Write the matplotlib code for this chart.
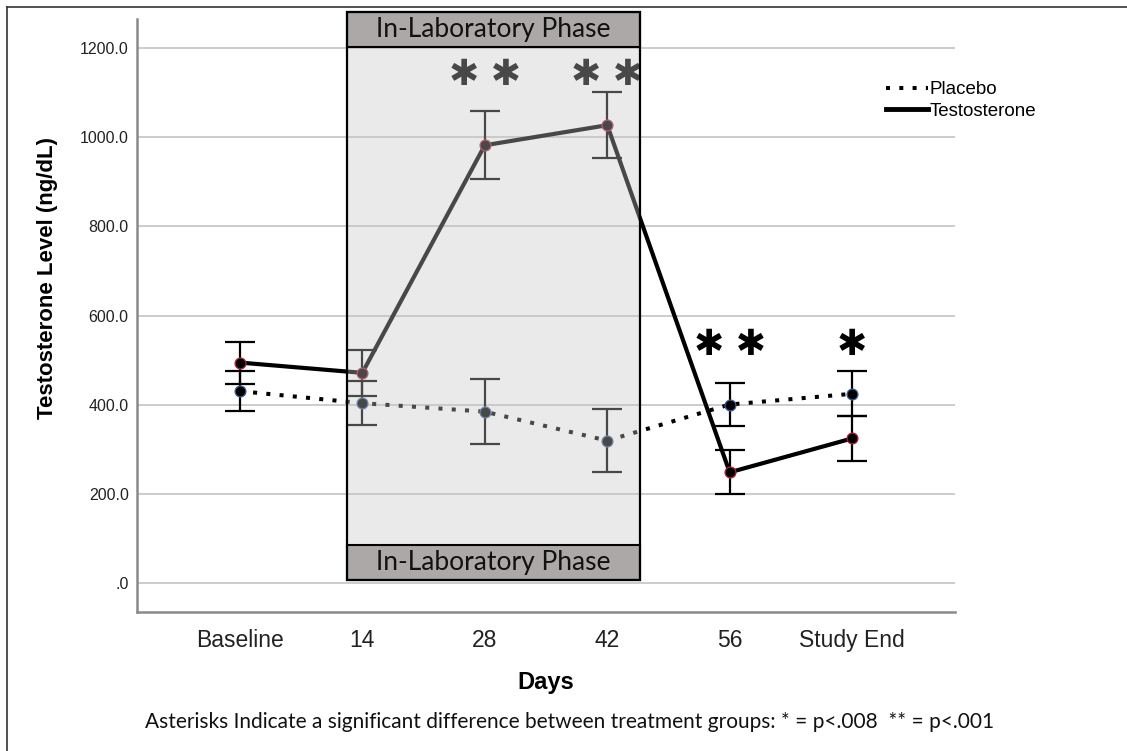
import matplotlib
matplotlib.use("Agg")
import matplotlib.pyplot as plt
import matplotlib.transforms as mtransforms
from matplotlib.patches import Rectangle
from matplotlib.lines import Line2D

# ---- data ----
categories = ["Baseline", "14", "28", "42", "56", "Study End"]
testosterone = [495, 472, 982, 1027, 249, 325]
testosterone_err = [47, 52, 76, 74, 49, 51]
placebo = [431, 404, 385, 320, 401, 425]
placebo_err = [44, 50, 73, 71, 48, 50]
yticks = [0, 200, 400, 600, 800, 1000, 1200]
ytick_labels = [".0", "200.0", "400.0", "600.0", "800.0", "1000.0", "1200.0"]
sig_marks = ["", "", "**", "**", "**", "*"]
sig_y = [None, None, 1139, 1139, 534, 534]
phase_label = "In-Laboratory Phase"
phase_span = (0.874, 3.27)
footnote = "Asterisks Indicate a significant difference between treatment groups: * = p<.008  ** = p<.001"

W, H = 1127, 751
fig = plt.figure(figsize=(W / 100, H / 100), dpi=100)
ax = fig.add_axes([137 / W, (H - 612) / H, (955 - 137) / W, (612 - 19) / H])

x = list(range(len(categories)))
ax.set_xlim(-0.84, 5.84)
ax.set_ylim(-64, 1265)

# grid
ax.set_yticks(yticks)
ax.set_yticklabels(ytick_labels, fontsize=11.5, family="Liberation Sans", color="#222222")
ax.set_xticks(x)
ax.set_xticklabels(categories, fontsize=16.5, family="Liberation Sans", color="#222222")
ax.tick_params(axis="both", length=0)
ax.tick_params(axis="y", pad=6)
ax.tick_params(axis="x", pad=12)
ax.yaxis.grid(True, color="#c8c8c8", lw=1.3, zorder=0)
ax.set_axisbelow(True)
for s in ["top", "right"]:
    ax.spines[s].set_visible(False)
for s in ["left", "bottom"]:
    ax.spines[s].set_color("#8a8a8a")
    ax.spines[s].set_linewidth(1.8)

# lines
ax.plot(x, placebo, color="black", lw=2.9, ls=(0, (1, 2.3)), zorder=3)
ax.plot(x, testosterone, color="black", lw=3.0, zorder=3, solid_capstyle="round")
ax.errorbar(x, placebo, yerr=placebo_err, fmt="none", ecolor="black", elinewidth=1.6,
            capsize=11, capthick=1.6, zorder=4)
ax.errorbar(x, testosterone, yerr=testosterone_err, fmt="none", ecolor="black", elinewidth=1.6,
            capsize=11, capthick=1.6, zorder=4)
ax.plot(x, placebo, ls="none", marker="o", ms=7.8, mfc="black", mec="#3c5d96", mew=0.9, zorder=5)
ax.plot(x, testosterone, ls="none", marker="o", ms=7.8, mfc="black", mec="#b0203c", mew=0.9, zorder=5)

# significance asterisks
for xi, m, yv in zip(x, sig_marks, sig_y):
    if m:
        ax.text(xi, yv, " ".join("\u2731" * len(m)), ha="center", va="center", fontsize=26,
                family="DejaVu Sans", color="black", zorder=6)

# phase box
trans = mtransforms.blended_transform_factory(ax.transData, fig.transFigure)
x0, x1 = phase_span
y_bot, y_top = (H - 580) / H, (H - 12) / H
hdr_h = 35 / H
ax.add_patch(Rectangle((x0, y_bot), x1 - x0, y_top - y_bot, transform=trans,
                       facecolor=(198 / 255, 198 / 255, 198 / 255), alpha=0.37,
                       edgecolor="none", zorder=8, clip_on=False))
for yb in [y_top - hdr_h, y_bot]:
    ax.add_patch(Rectangle((x0, yb), x1 - x0, hdr_h, transform=trans,
                           facecolor="#aca8a8", edgecolor="black", lw=1.5,
                           zorder=9, clip_on=False))
    ax.text((x0 + x1) / 2, yb + hdr_h / 2, phase_label, transform=trans, ha="center",
            va="center", fontsize=19, family="Lato", color="#111111", zorder=10)
ax.add_patch(Rectangle((x0, y_bot), x1 - x0, y_top - y_bot, transform=trans,
                       facecolor="none", edgecolor="black", lw=1.6, zorder=11, clip_on=False))

# labels
ax.set_xlabel("Days", fontsize=17, fontweight="bold", family="Liberation Sans", labelpad=14)
ax.set_ylabel("Testosterone Level (ng/dL)", fontsize=16, fontweight="bold",
              family="Liberation Sans")
ax.yaxis.set_label_coords(-0.097, 0.563)

# legend
handles = [Line2D([], [], color="black", lw=2.9, ls=(0, (1, 2.3))),
           Line2D([], [], color="black", lw=3.5)]
fig.legend(handles, ["Placebo", "Testosterone"], loc="upper left",
           bbox_to_anchor=(877 / W, 1 - 72 / H), frameon=False, borderpad=0,
           handlelength=2.2, handletextpad=0.1, labelspacing=0.22,
           prop={"family": "Liberation Sans", "size": 13.5})

# footnote
fig.text(570 / W, 1 - 722 / H, footnote, ha="center", va="center", fontsize=15,
         family="Lato", color="#111111")

# outer frame lines (top and left)
fig.add_artist(Line2D([7 / W, 1], [1 - 7 / H, 1 - 7 / H], transform=fig.transFigure,
                      color="#333333", lw=1.2))
fig.add_artist(Line2D([7 / W, 7 / W], [0, 1 - 7 / H], transform=fig.transFigure,
                      color="#333333", lw=1.2))

fig.savefig("out.png", dpi=100)
